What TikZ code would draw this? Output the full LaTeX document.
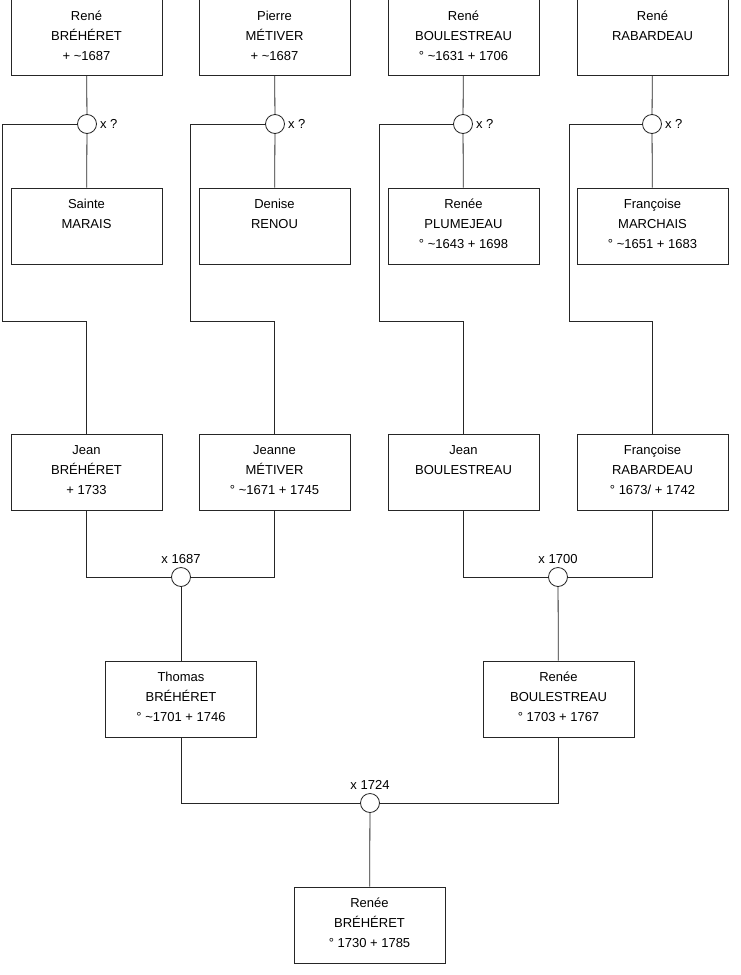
\documentclass[tikz,border=0pt]{standalone}
\usepackage{fontspec}
\setmainfont{Liberation Sans}

\newcommand{\abt}{\textasciitilde}
% last line of a box, with a fixed depth
\newcommand{\dl}[1]{\rule[-4pt]{0pt}{13pt}#1}

\tikzset{
  person/.style={draw=black!85, line width=0.8pt, minimum width=151pt, minimum height=76pt,
    align=center, inner sep=0pt, font=\fontsize{13}{20}\selectfont},
  wed/.style={draw=black!85, line width=0.8pt, circle, minimum size=19pt, inner sep=0pt, fill=white},
  wedlabel/.style={font=\fontsize{13}{15}\selectfont, inner sep=1pt, label distance=2pt},
  link/.style={draw=black!85, line width=0.8pt}
}

\begin{document}
\begin{tikzpicture}[x=1pt,y=-1pt]

    % frame of the page
    \useasboundingbox (0,0) rectangle (740,975);

    % Top row
    \node[person] (rbreheret) at (86.5,37.5) {René\\BRÉHÉRET\\\dl{+ \abt1687}};
    \node[person] (pmetiver)  at (274.5,37.5) {Pierre\\MÉTIVER\\\dl{+ \abt1687}};
    \node[person] (rboulest)  at (463.5,37.5) {René\\BOULESTREAU\\\dl{° \abt1631 + 1706}};
    \node[person] (rrabard)   at (652.5,37.5) {René\\RABARDEAU\\\dl{}};

    % Wives
    \node[person] (smarais)   at (86.5,226) {Sainte\\MARAIS\\\dl{}};
    \node[person] (drenou)    at (274.5,226) {Denise\\RENOU\\\dl{}};
    \node[person] (rplumej)   at (463.5,226) {Renée\\PLUMEJEAU\\\dl{° \abt1643 + 1698}};
    \node[person] (fmarch)    at (652.5,226) {Françoise\\MARCHAIS\\\dl{° \abt1651 + 1683}};

    % Marriages of the first generation
    \node[wed, label={[wedlabel]right:x ?}] (w1) at (87,124) {};
    \node[wed, label={[wedlabel]right:x ?}] (w2) at (275,124) {};
    \node[wed, label={[wedlabel]right:x ?}] (w3) at (463,124) {};
    \node[wed, label={[wedlabel]right:x ?}] (w4) at (652,124) {};

    % Children
    \node[person] (jbreheret) at (86.5,472) {Jean\\BRÉHÉRET\\\dl{+ 1733}};
    \node[person] (jmetiver)  at (274.5,472) {Jeanne\\MÉTIVER\\\dl{° \abt1671 + 1745}};
    \node[person] (jboulest)  at (463.5,472) {Jean\\BOULESTREAU\\\dl{}};
    \node[person] (frabard)   at (652.5,472) {Françoise\\RABARDEAU\\\dl{° 1673/ + 1742}};

    \node[wed, label={[wedlabel]above:x 1687}] (w5) at (181,577) {};
    \node[wed, label={[wedlabel]above:x 1700}] (w6) at (558,577) {};

    \node[person] (tbreheret) at (181,699) {Thomas\\BRÉHÉRET\\\dl{° \abt1701 + 1746}};
    \node[person] (rboulest2) at (558.5,699) {Renée\\BOULESTREAU\\\dl{° 1703 + 1767}};

    \node[wed, label={[wedlabel]above:x 1724}] (w7) at (370,803) {};

    \node[person] (rbreheret2) at (369.5,925) {Renée\\BRÉHÉRET\\\dl{° 1730 + 1785}};

    % bends of the descent lines
    \coordinate (k1) at (2,321);
    \coordinate (k2) at (190,321);
    \coordinate (k3) at (379,321);
    \coordinate (k4) at (569,321);

    % Couples
    \draw[link] (rbreheret) -- (w1) -- (smarais);
    \draw[link] (pmetiver) -- (w2) -- (drenou);
    \draw[link] (rboulest) -- (w3) -- (rplumej);
    \draw[link] (rrabard) -- (w4) -- (fmarch);

    % Descent
    \draw[link] (w1.west) -| (k1) -| (jbreheret.north);
    \draw[link] (w2.west) -| (k2) -| (jmetiver.north);
    \draw[link] (w3.west) -| (k3) -| (jboulest.north);
    \draw[link] (w4.west) -| (k4) -| (frabard.north);

    \draw[link] (jbreheret.south) |- (w5.west);
    \draw[link] (jmetiver.south) |- (w5.east);
    \draw[link] (w5) -- (tbreheret);
    \draw[link] (jboulest.south) |- (w6.west);
    \draw[link] (frabard.south) |- (w6.east);
    \draw[link] (w6) -- (rboulest2);

    \draw[link] (tbreheret.south) |- (w7.west);
    \draw[link] (rboulest2.south) |- (w7.east);
    \draw[link] (w7) -- (rbreheret2);

\end{tikzpicture}
\end{document}
